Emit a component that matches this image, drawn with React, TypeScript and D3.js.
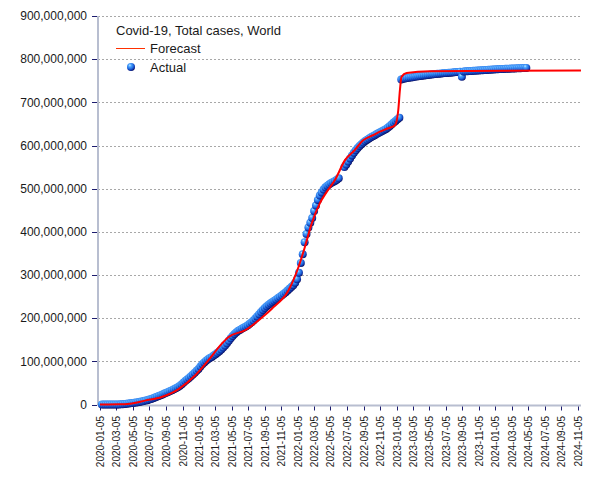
import React from 'react';
import * as d3 from 'd3';

const W = 605;
const H = 480;

// Tick labels of the time axis
const xTickLabels = [
  '2020-01-05', '2020-03-05', '2020-05-05', '2020-07-05', '2020-09-05', '2020-11-05',
  '2021-01-05', '2021-03-05', '2021-05-05', '2021-07-05', '2021-09-05', '2021-11-05',
  '2022-01-05', '2022-03-05', '2022-05-05', '2022-07-05', '2022-09-05', '2022-11-05',
  '2023-01-05', '2023-03-05', '2023-05-05', '2023-07-05', '2023-09-05', '2023-11-05',
  '2024-01-05', '2024-03-05', '2024-05-05', '2024-07-05', '2024-09-05', '2024-11-05',
];
const yTickValues = [0, 100e6, 200e6, 300e6, 400e6, 500e6, 600e6, 700e6, 800e6, 900e6];

// Actual: weekly observations (millions), first on 2020-01-12
const actualStart = '2020-01-12';
const actualStepDays = 7;
const actualMillions: (number | null)[] = [
  0, 0, 0.002, 0.015, 0.037, 0.069, 0.079, 0.088, 0.108, 0.167,
  0.34, 0.72, 1.27, 1.85, 2.4, 2.97, 3.5, 4.1, 4.7, 5.4,
  6.2, 7.0, 7.9, 9.0, 10.1, 11.4, 12.8, 14.4, 16.1, 17.9,
  19.7, 21.5, 23.3, 25.2, 27.1, 29.1, 31.2, 33.2, 35.3, 37.5,
  40.0, 43.0, 46.4, 50.3, 54.3, 58.0, 61.5, 65.3, 69.5, 73.6,
  78.0, 82.5, 88.0, 93.0, 97.5, 101.5, 104.8, 107.6, 110.3, 113.5,
  116.5, 119.8, 123.3, 127.3, 131.8, 136.5, 141.8, 147.4, 153.2, 158.8,
  163.5, 167.3, 170.6, 173.4, 176.0, 178.4, 180.8, 183.5, 186.8, 190.5,
  194.6, 199, 204, 209, 214, 219, 223.5, 227.6, 231.3, 234.6,
  237.6, 240.5, 243.5, 246.5, 249.5, 252.8, 256.3, 260, 264, 268,
  272, 276.5, 282, 290, 305, 328, 348, 376, 395, 410,
  421, 432, 448, 461, 474, 484, 491, 498, 503, 507,
  510, 513, 515.5, 518, 520.5, 524, null, null, 550, 556,
  563, 570, 577, 583, 589, 594, 599, 603, 607, 610.5,
  613.5, 616.3, 619, 621.5, 624, 626.5, 628.8, 631, 633.5, 636,
  638.5, 641.5, 645, 649, 653, 657, 661, 664, 753, 754.5,
  755.5, 756.3, 757, 757.7, 758.3, 759, 759.6, 760.3, 761, 761.6,
  762.2, 762.8, 763.4, 764, 764.5, 765, 765.5, 766, 766.5, 767,
  767.4, 767.8, 768.2, 768.5, 768.8, 769.2, 769.6, 770, 770.4, 770.8,
  759, 771.4, 771.8, 772.1, 772.4, 772.7, 773, 773.3, 773.6, 773.9,
  774.2, 774.5, 774.8, 775, 775.3, 775.6, 775.9, 776.2, 776.5, 776.8,
  777, 777.2, 777.4, 777.6, 777.8, 778, 778.2, 778.4, 778.6, 778.8,
  779, 779.2, 779.4, 779.6, 779.8,
];

// Forecast curve (millions)
const forecastDates = [
  '2020-01-05', '2020-03-15', '2020-04-25', '2020-06-19', '2020-08-20', '2020-10-20',
  '2020-12-21', '2021-02-08', '2021-03-30', '2021-04-23', '2021-06-24', '2021-09-01',
  '2021-10-01', '2021-12-01', '2022-01-07', '2022-01-31', '2022-02-25', '2022-03-27',
  '2022-04-21', '2022-05-22', '2022-06-28', '2022-08-04', '2022-09-03', '2022-10-10',
  '2022-11-04', '2022-12-05', '2022-12-30', '2023-01-11', '2023-01-17', '2023-01-23',
  '2023-02-11', '2023-05-08', '2024-11-16',
];
const forecastMillions = [
  0, 0.3, 1.8, 9, 17.5, 35,
  67, 102, 141, 156, 172, 205,
  222, 264, 318, 365, 419, 466,
  492, 520, 566, 590, 612, 624,
  632, 640, 647, 682, 728, 759,
  768, 772, 774,
];

const titleText = 'Covid-19, Total cases, World';
const forecastLabel = 'Forecast';
const actualLabel = 'Actual';

const parse = d3.utcParse('%Y-%m-%d');
const FONT = '"Liberation Sans", Arial, sans-serif';

export default function App() {
  const left = 98;
  const right = 581;
  const top = 16;
  const bottom = 404.5;

  const x = d3
    .scaleUtc()
    .domain([parse('2020-01-05') as Date, parse('2024-11-05') as Date])
    .range([100, 578]);
  const y = d3.scaleLinear().domain([0, 900e6]).range([bottom, top]);

  const start = parse(actualStart) as Date;
  const actual = actualMillions
    .map((v, i) => ({ date: d3.utcDay.offset(start, i * actualStepDays), v }))
    .filter((d) => d.v !== null) as { date: Date; v: number }[];

  const forecast = forecastDates.map((s, i) => ({ date: parse(s) as Date, v: forecastMillions[i] }));
  const line = d3
    .line<{ date: Date; v: number }>()
    .x((d) => x(d.date))
    .y((d) => y(d.v * 1e6))
    .curve(d3.curveMonotoneX);

  const fmt = d3.format(',');

  return (
    <svg
      width={W}
      height={H}
      style={{ position: 'absolute', left: 0, top: 0, background: '#fff' }}
      fontFamily={FONT}
    >
      <defs>
        <radialGradient id="sphere" cx="0.4" cy="0.35" r="0.7" fx="0.35" fy="0.28">
          <stop offset="0%" stopColor="#bfe8ff" />
          <stop offset="25%" stopColor="#4fa6ff" />
          <stop offset="60%" stopColor="#1f6ae0" />
          <stop offset="85%" stopColor="#0c2a9a" />
          <stop offset="100%" stopColor="#00004a" />
        </radialGradient>
      </defs>
      <rect x={0} y={0} width={W} height={H} fill="#fff" />

      {/* grid */}
      {yTickValues.filter((t) => t > 0).map((t) => (
        <line
          key={'g' + t}
          x1={left}
          x2={right}
          y1={Math.round(y(t)) + 0.5}
          y2={Math.round(y(t)) + 0.5}
          stroke="#a8a8a8"
          strokeDasharray="2,2"
          strokeWidth={1}
        />
      ))}

      {/* y axis */}
      <line x1={left} x2={left} y1={top} y2={bottom + 1} stroke="#b8bed0" strokeWidth={2} />
      {yTickValues.map((t) => (
        <g key={'y' + t}>
          <line x1={left - 6} x2={left - 1} y1={Math.round(y(t)) + 0.5} y2={Math.round(y(t)) + 0.5} stroke="#1c1c6e" />
          <text x={87} y={y(t)} dy="0.35em" textAnchor="end" fontSize={12} fill="#1a1a1a">
            {fmt(t)}
          </text>
        </g>
      ))}

      {/* x axis */}
      <line x1={left} x2={right} y1={bottom + 1} y2={bottom + 1} stroke="#b8bed0" strokeWidth={2} />
      {xTickLabels.map((s) => {
        const px = Math.round(x(parse(s) as Date)) + 0.5;
        return (
          <g key={'x' + s}>
            <line x1={px} x2={px} y1={bottom + 2} y2={bottom + 6} stroke="#1c1c6e" />
            <text
              transform={`translate(${px},${416}) rotate(-90)`}
              dy="0.35em"
              textAnchor="end"
              fontSize={10}
              fill="#1a1a1a"
            >
              {s}
            </text>
          </g>
        );
      })}

      {/* actual markers */}
      {actual.map((d, i) => (
        <circle key={'a' + i} cx={x(d.date)} cy={y(d.v * 1e6)} r={4} fill="url(#sphere)" />
      ))}

      {/* forecast line */}
      <path d={line(forecast) || ''} fill="none" stroke="#ff0000" strokeWidth={2} />

      {/* legend */}
      <text x={116} y={35} fontSize={13} fill="#1a1a1a">{titleText}</text>
      <line x1={116} x2={145} y1={48.5} y2={48.5} stroke="#ff3000" strokeWidth={1} />
      <text x={150} y={53} fontSize={13} fill="#1a1a1a">{forecastLabel}</text>
      <circle cx={131} cy={67} r={4} fill="url(#sphere)" />
      <text x={150} y={71.5} fontSize={13} fill="#1a1a1a">{actualLabel}</text>
    </svg>
  );
}
